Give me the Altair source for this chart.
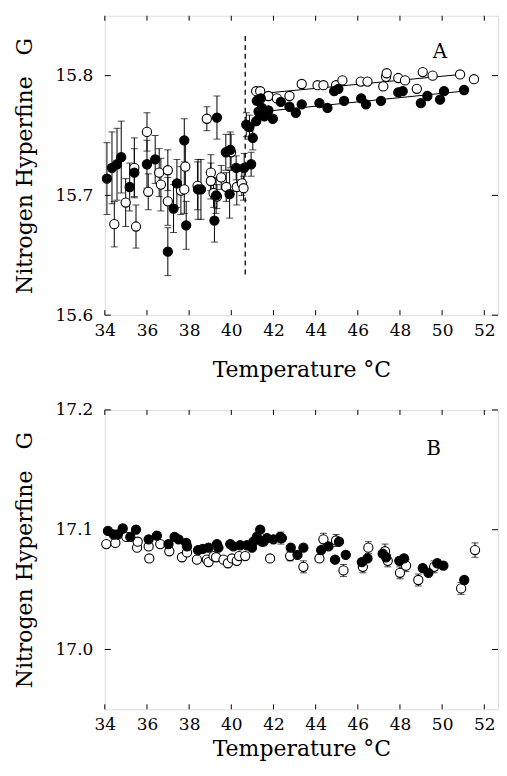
import altair as alt
import pandas as pd

# ---------------- Panel A data ----------------
a_open_t = [34.45, 34.99, 35.40, 35.48, 36.00, 36.06, 36.58, 36.66, 36.99, 36.99,
            37.61, 37.77, 37.82, 38.40, 38.84, 39.03, 39.03, 39.16, 39.32, 39.52,
            39.76, 39.99, 40.26, 40.50, 40.58,
            41.18, 41.37, 41.76, 42.16, 42.76, 43.34, 44.09, 44.37, 44.97, 45.27,
            46.14, 46.46, 47.21, 47.34, 47.37, 47.92, 48.24, 48.80, 49.08, 49.55,
            50.85, 51.51]
a_open_v = [15.676, 15.694, 15.723, 15.674, 15.753, 15.703, 15.719, 15.709, 15.721, 15.695,
            15.704, 15.705, 15.724, 15.708, 15.764, 15.719, 15.712, 15.702, 15.699, 15.715,
            15.707, 15.736, 15.707, 15.710, 15.706,
            15.787, 15.787, 15.783, 15.781, 15.783, 15.793, 15.792, 15.792, 15.792, 15.796,
            15.795, 15.795, 15.791, 15.799, 15.802, 15.798, 15.796, 15.789, 15.803, 15.800,
            15.801, 15.797]
a_open_e = [0.019, 0.020, 0.025, 0.018, 0.016, 0.015, 0.020, 0.022, 0.017, 0.020,
            0.020, 0.020, 0.020, 0.020, 0.010, 0.015, 0.015, 0.012, 0.010, 0.010,
            0.012, 0.015, 0.015, 0.010, 0.010,
            0, 0, 0, 0, 0, 0, 0, 0, 0, 0,
            0, 0, 0, 0, 0, 0, 0, 0, 0, 0,
            0, 0]

a_fill_t = [34.10, 34.34, 34.58, 34.78, 35.18, 35.40, 36.00, 36.39, 36.99, 37.26,
            37.42, 37.77, 37.86, 38.42, 38.56, 39.20, 39.28, 39.32, 39.74, 39.95,
            39.92, 40.23, 40.61, 40.94, 40.71, 40.86, 41.02,
            41.21, 41.40, 41.29, 41.18, 41.45, 41.57, 41.76, 41.97, 41.37, 42.35,
            42.76, 43.06, 43.34, 44.18, 44.56, 44.88, 45.08, 45.35, 46.16, 46.39,
            47.10, 47.92, 48.13, 48.99, 49.30, 49.90, 50.09, 51.04]
a_fill_v = [15.714, 15.723, 15.726, 15.732, 15.707, 15.719, 15.726, 15.730, 15.653, 15.689,
            15.710, 15.746, 15.675, 15.705, 15.705, 15.679, 15.700, 15.765, 15.736, 15.738,
            15.701, 15.723, 15.723, 15.726, 15.759, 15.757, 15.748,
            15.779, 15.781, 15.770, 15.762, 15.773, 15.766, 15.771, 15.764, 15.767, 15.778,
            15.774, 15.769, 15.776, 15.777, 15.773, 15.787, 15.789, 15.779, 15.781, 15.776,
            15.779, 15.786, 15.787, 15.777, 15.783, 15.780, 15.787, 15.788]
a_fill_e = [0.030, 0.030, 0.030, 0.030, 0.020, 0.020, 0.020, 0.020, 0.020, 0.020,
            0.020, 0.018, 0.020, 0.025, 0.025, 0.018, 0.015, 0.018, 0.015, 0.015,
            0.020, 0.010, 0.012, 0.010, 0.010, 0.010, 0.010,
            0, 0, 0, 0, 0, 0, 0, 0, 0, 0,
            0, 0, 0, 0, 0, 0, 0, 0, 0, 0,
            0, 0, 0, 0, 0, 0, 0, 0]

a_fit_open_t = [41.4, 50.9]
a_fit_open_v = [15.785, 15.801]
a_fit_fill_t = [41.5, 51.0]
a_fit_fill_v = [15.770, 15.787]
a_dash_t = [40.66]
a_dash_lo = [15.634]
a_dash_hi = [15.834]
a_label = ["A"]
a_label_t = [49.9]
a_label_v = [15.82]

# ---------------- Panel B data ----------------
b_open_t = [34.07, 34.50, 35.02, 35.53, 35.56, 36.08, 36.11, 36.63, 37.06, 37.66,
            37.90, 38.37, 38.84, 38.92, 39.16, 39.28, 39.63, 39.84, 40.03, 40.26,
            40.37, 40.66, 41.84, 42.35, 42.79, 43.42, 44.18, 44.37, 44.97, 45.32,
            46.24, 46.50, 47.29, 47.42, 48.00, 48.29, 48.87, 49.62, 50.90, 51.56]
b_open_v = [17.088, 17.089, 17.094, 17.085, 17.090, 17.086, 17.076, 17.088, 17.082, 17.077,
            17.081, 17.075, 17.075, 17.073, 17.078, 17.077, 17.075, 17.072, 17.076, 17.074,
            17.078, 17.078, 17.076, 17.093, 17.078, 17.069, 17.076, 17.092, 17.091, 17.066,
            17.069, 17.085, 17.082, 17.074, 17.064, 17.070, 17.058, 17.069, 17.051, 17.083]
b_open_e = [0, 0, 0, 0, 0, 0, 0, 0, 0, 0,
            0, 0, 0, 0, 0, 0, 0, 0, 0, 0,
            0, 0, 0, 0.005, 0.004, 0.005, 0, 0.005, 0.005, 0.005,
            0.005, 0.005, 0.006, 0.005, 0.005, 0.005, 0.005, 0.005, 0.005, 0.006]

b_fill_t = [34.15, 34.42, 34.61, 34.85, 35.21, 35.48, 36.08, 36.47, 37.02, 37.31,
            37.50, 37.86, 37.90, 38.42, 38.65, 38.92, 39.32, 39.39, 39.95, 40.10,
            40.42, 40.74, 40.98, 41.05, 41.21, 41.37, 41.45, 41.53, 41.69, 42.00,
            42.32, 42.40, 42.82, 43.14, 43.42, 44.26, 44.61, 44.92, 45.11, 45.43,
            46.19, 46.46, 47.18, 47.34, 47.97, 48.19, 49.08, 49.35, 49.77, 50.06,
            51.05]
b_fill_v = [17.099, 17.096, 17.096, 17.101, 17.094, 17.100, 17.092, 17.095, 17.088, 17.094,
            17.092, 17.089, 17.086, 17.083, 17.084, 17.085, 17.088, 17.085, 17.088, 17.086,
            17.087, 17.087, 17.085, 17.090, 17.094, 17.100, 17.090, 17.090, 17.093, 17.092,
            17.094, 17.093, 17.085, 17.079, 17.085, 17.083, 17.086, 17.075, 17.090, 17.079,
            17.073, 17.076, 17.080, 17.077, 17.074, 17.076, 17.068, 17.064, 17.072, 17.070,
            17.058]
b_label = ["B"]
b_label_t = [49.6]
b_label_v = [17.167]

x_ticks = [34, 36, 38, 40, 42, 44, 46, 48, 50, 52]
a_y_ticks = [15.6, 15.7, 15.8]
b_y_ticks = [17.0, 17.1, 17.2]

FONT = "DejaVu Serif"
X_MAX = 52.65
W, H = 394, 300
X_TITLE = "Temperature °C"
Y_TITLE = "Nitrogen Hyperfine\u00a0\u00a0\u00a0G"


def panel(open_t, open_v, open_e, fill_t, fill_v, fill_e, ydom, yticks,
          lab, lab_t, lab_v, fits=None, dash=None, x_title_pad=16):
    xaxis = alt.Axis(values=x_ticks, format="d", title=X_TITLE, grid=False,
                     domain=False, ticks=False, tickSize=0, labelFont=FONT,
                     labelFontSize=17, labelColor="black", labelPadding=7,
                     titleFont=FONT, titleFontSize=22, titleFontWeight="normal",
                     titleColor="black", titlePadding=x_title_pad, labelFlush=False)
    yaxis = alt.Axis(values=yticks, format=".1f", title=Y_TITLE, grid=False,
                     domain=False, ticks=False, tickSize=0, labelFont=FONT,
                     labelFontSize=17, labelColor="black", labelPadding=12,
                     titleFont=FONT, titleFontSize=22, titleFontWeight="normal",
                     titleColor="black", titlePadding=19, labelFlush=False)
    xs = alt.Scale(domain=[34, X_MAX], nice=False, zero=False)
    ys = alt.Scale(domain=ydom, nice=False, zero=False)
    X = alt.X("T:Q", scale=xs, axis=xaxis)

    def Y(f):
        return alt.Y(f + ":Q", scale=ys, axis=yaxis)

    od = pd.DataFrame({"T": open_t, "V": open_v, "e": open_e})
    fd = pd.DataFrame({"T": fill_t, "V": fill_v, "e": fill_e})
    for d in (od, fd):
        d["lo"] = d["V"] - d["e"]
        d["hi"] = d["V"] + d["e"]
    eb = pd.concat([od, fd])
    eb = eb[eb["e"] > 0]

    layers = []
    layers.append(alt.Chart(eb).mark_rule(color="black", strokeWidth=1)
                  .encode(x=X, y=Y("lo"), y2="hi"))
    for f in ("lo", "hi"):
        layers.append(alt.Chart(eb).mark_tick(color="black", orient="horizontal",
                                              size=7, thickness=1)
                      .encode(x=X, y=Y(f)))
    if fits is not None:
        fdf = pd.DataFrame({"T": fits[0] + fits[2], "V": fits[1] + fits[3],
                            "s": ["o"] * len(fits[0]) + ["f"] * len(fits[2])})
        layers.append(alt.Chart(fdf).mark_line(color="black", strokeWidth=1)
                      .encode(x=X, y=Y("V"), detail="s:N"))
    if dash is not None:
        ddf = pd.DataFrame({"T": dash[0], "lo": dash[1], "hi": dash[2]})
        layers.append(alt.Chart(ddf).mark_rule(color="black", strokeWidth=1.3,
                                               strokeDash=[5, 4])
                      .encode(x=X, y=Y("lo"), y2="hi"))
    layers.append(alt.Chart(od).mark_point(shape="circle", filled=True, fill="white",
                                           stroke="black", strokeWidth=1.1,
                                           size=85, opacity=1)
                  .encode(x=X, y=Y("V")))
    layers.append(alt.Chart(fd).mark_point(shape="circle", filled=True, fill="black",
                                           stroke="black", strokeWidth=1.1,
                                           size=85, opacity=1)
                  .encode(x=X, y=Y("V")))
    ldf = pd.DataFrame({"T": lab_t, "V": lab_v, "txt": lab})
    layers.append(alt.Chart(ldf).mark_text(font=FONT, fontSize=20, color="black")
                  .encode(x=X, y=Y("V"), text="txt:N"))
    # inward tick marks on all four sides
    xt = pd.DataFrame({"T": x_ticks})
    yt = pd.DataFrame({"V": yticks})
    layers.append(alt.Chart(xt).mark_rule(color="black", strokeWidth=1)
                  .encode(x=X, y=alt.value(H), y2=alt.value(H - 5)))
    layers.append(alt.Chart(xt).mark_rule(color="black", strokeWidth=1)
                  .encode(x=X, y=alt.value(0), y2=alt.value(5)))
    layers.append(alt.Chart(yt).mark_rule(color="black", strokeWidth=1)
                  .encode(y=Y("V"), x=alt.value(0), x2=alt.value(6)))
    layers.append(alt.Chart(yt).mark_rule(color="black", strokeWidth=1)
                  .encode(y=Y("V"), x=alt.value(W), x2=alt.value(W - 6)))
    return alt.layer(*layers).properties(width=W, height=H)


chart_a = panel(a_open_t, a_open_v, a_open_e, a_fill_t, a_fill_v, a_fill_e,
                [15.6, 15.85], a_y_ticks, a_label, a_label_t, a_label_v,
                fits=(a_fit_open_t, a_fit_open_v, a_fit_fill_t, a_fit_fill_v),
                dash=(a_dash_t, a_dash_lo, a_dash_hi), x_title_pad=21)
chart_b = panel(b_open_t, b_open_v, b_open_e, b_fill_t, b_fill_v,
                [0] * len(b_fill_t), [16.95, 17.2], b_y_ticks,
                b_label, b_label_t, b_label_v, x_title_pad=6)

chart = alt.vconcat(chart_a, chart_b, spacing=19).properties(
    padding={"left": 4, "top": 6, "right": 0, "bottom": 0}
).configure_view(stroke="black", strokeWidth=1.5).configure(background="white")

chart.save("out.html", embed_options={"renderer": "svg", "actions": False})
